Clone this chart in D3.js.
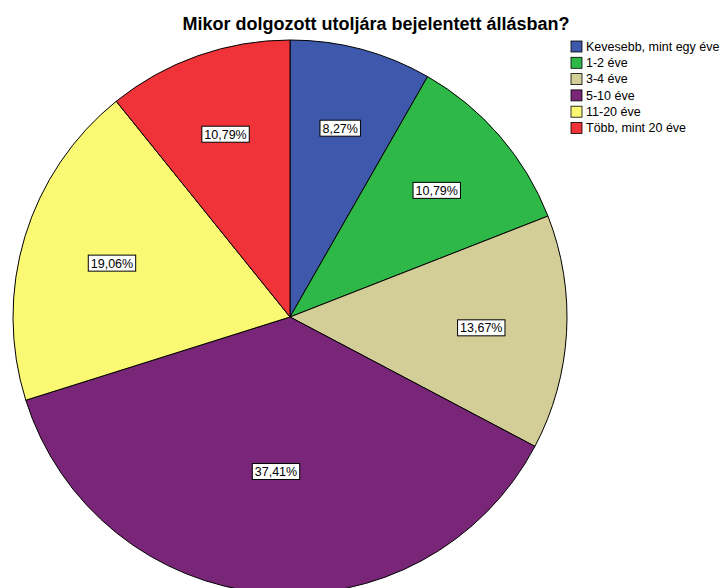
<!DOCTYPE html>
<html>
<head>
<meta charset="utf-8">
<script src="https://cdn.jsdelivr.net/npm/d3@7/dist/d3.min.js"></script>
<style>
    body { margin: 0; background: #fff; }
    text { font-family: "Liberation Sans", Arial, sans-serif; }
</style>
</head>
<body>
<script>
    var title = "Mikor dolgozott utoljára bejelentett állásban?";
    var categories = ["Kevesebb, mint egy éve", "1-2 éve", "3-4 éve", "5-10 éve", "11-20 éve", "Több, mint 20 éve"];
    var counts = [23, 30, 38, 104, 53, 30];
    var colors = ["#3E58AC", "#2EB848", "#D3CE97", "#7A2678", "#FBF873", "#EF3338"];

    var width = 725, height = 588;
    var cx = 290, cy = 317, r = 277;

    var svg = d3.select("body")
        .append("svg")
        .attr("width", width)
        .attr("height", height);

    //title
    svg.append("text")
        .attr("x", 376)
        .attr("y", 30)
        .attr("text-anchor", "middle")
        .style("font-size", "18px")
        .style("font-weight", "bold")
        .text(title);

    var total = d3.sum(counts);
    var pie = d3.pie().sort(null).value(d => d);
    var arcs = pie(counts);
    var arc = d3.arc().innerRadius(0).outerRadius(r);

    var g = svg.append("g")
        .attr("transform", "translate(" + cx + "," + cy + ")");

    g.selectAll("path")
        .data(arcs)
        .enter()
        .append("path")
        .attr("d", arc)
        .attr("fill", (d, i) => colors[i])
        .attr("stroke", "#000")
        .attr("stroke-width", 1);

    //percentage labels, placed near the sector's centroid
    var fmt = d => (d.value / total * 100).toFixed(2).replace(".", ",") + "%";
    var labels = g.selectAll("g.lab")
        .data(arcs)
        .enter()
        .append("g")
        .attr("class", "lab")
        .attr("transform", function(d) {
            var h = (d.endAngle - d.startAngle) / 2;
            var a = d.startAngle + h;
            var dist = 2 / 3 * r * Math.sin(h) / h * 1.07;
            return "translate(" + (Math.sin(a) * dist) + "," + (-Math.cos(a) * dist) + ")";
        });

    labels.append("text")
        .attr("text-anchor", "middle")
        .attr("dy", "0.36em")
        .style("font-size", "12.5px")
        .text(fmt)
        .each(function() {
            var b = this.getBBox();
            d3.select(this.parentNode).insert("rect", "text")
                .attr("x", b.x - 2.5)
                .attr("y", -8)
                .attr("width", b.width + 5)
                .attr("height", 16)
                .attr("fill", "#fff")
                .attr("stroke", "#000")
                .attr("stroke-width", 1);
        });

    //legend
    var legend = svg.append("g")
        .attr("transform", "translate(571,41)");

    var rows = legend.selectAll("g")
        .data(categories)
        .enter()
        .append("g")
        .attr("transform", (d, i) => "translate(0," + (i * 16.3) + ")");

    rows.append("rect")
        .attr("width", 11)
        .attr("height", 11)
        .attr("fill", (d, i) => colors[i])
        .attr("stroke", "#000")
        .attr("stroke-width", 0.8);

    rows.append("text")
        .attr("x", 15)
        .attr("y", 5.5)
        .attr("dy", "0.35em")
        .style("font-size", "12.5px")
        .text(d => d);
</script>
</body>
</html>
